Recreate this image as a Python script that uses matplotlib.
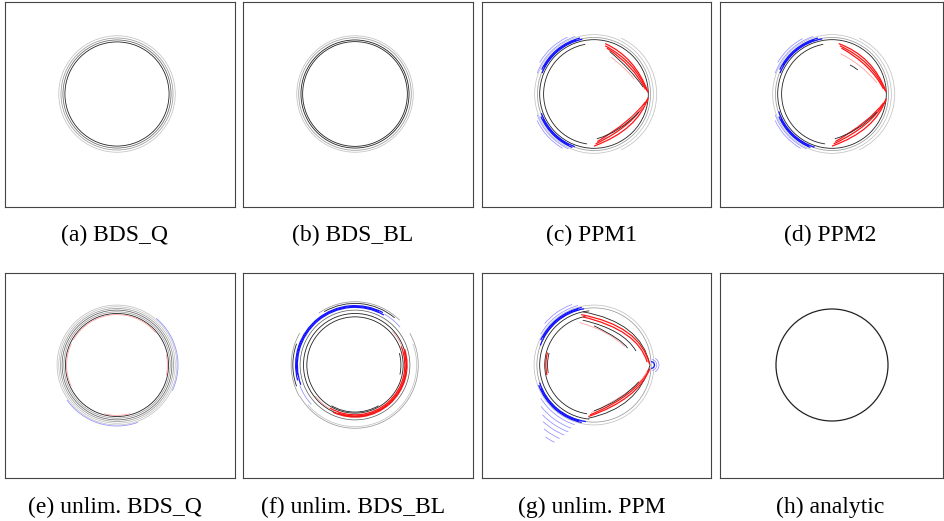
import matplotlib
matplotlib.use('Agg')
import matplotlib.pyplot as plt
from matplotlib.patches import Arc, PathPatch
from matplotlib.path import Path

# contour pieces, in units of the analytic radius, circle centre at (0, 0)
# arcs: (cx, cy, r, theta1, theta2, style); curves: (start, point on curve, end, style)
labels = ['(a) BDS_Q', '(b) BDS_BL', '(c) PPM1', '(d) PPM2',
          '(e) unlim. BDS_Q', '(f) unlim. BDS_BL', '(g) unlim. PPM', '(h) analytic']

arcs_a = [(0, 0, 0.93, 0, 360, 'k'), (0, 0, 0.965, 0, 360, 'dk'),
          (0, 0, 1.0, 0, 360, 'g'), (0, 0, 1.04, 0, 360, 'lg')]
arcs_b = [(0, 0, 0.935, 0, 360, 'k'), (0, 0, 0.965, 0, 360, 'k'),
          (0, 0, 1.005, 0, 360, 'g'), (0, 0, 1.04, 0, 360, 'lg')]
arcs_c = [(0, 0, 1.06, 0, 360, 'lg'), (0, 0, 1.01, 0, 360, 'g'), (0.02, 0, 1.1, -65, 65, 'lg'),
          (0, 0, 0.97, 0, 360, 'k'), (0, 0, 0.9, 100, 262, 'k'),
          (0, 0, 1.0, 102, 158, 'b'), (0, 0, 1.03, 104, 155, 'b'), (0, 0, 1.015, 108, 152, 'b'),
          (0, 0, 1.08, 108, 160, 'lb'), (0, 0, 1.12, 115, 150, 'lb'),
          (0, 0, 1.0, 200, 250, 'b'), (0, 0, 1.03, 203, 248, 'b'), (0, 0, 1.015, 206, 244, 'b'),
          (0, 0, 1.08, 200, 245, 'lb'), (0, 0, 1.12, 205, 240, 'lb')]
curves_c = [((0.2, 0.9), (0.66, 0.56), (0.97, 0.02), 'r'),
            ((0.2, 0.86), (0.65, 0.52), (0.95, 0.05), 'r'),
            ((0.23, 0.82), (0.64, 0.48), (0.92, 0.08), 'r'),
            ((0.3, 0.66), (0.55, 0.45), (0.72, 0.26), 'lr'),
            ((0.28, 0.76), (0.62, 0.44), (0.88, 0.12), 'k'),
            ((0.97, -0.06), (0.63, -0.57), (0.0, -0.93), 'r'),
            ((0.95, -0.1), (0.6, -0.53), (0.03, -0.89), 'r'),
            ((0.92, -0.14), (0.58, -0.49), (0.06, -0.85), 'r'),
            ((0.9, -0.2), (0.7, -0.4), (0.5, -0.58), 'lr'),
            ((0.8, -0.32), (0.45, -0.62), (0.05, -0.8), 'k')]
arcs_d = [(0, 0, 1.06, 0, 360, 'lg'), (0, 0, 1.01, 0, 360, 'g'), (0.02, 0, 1.1, -65, 65, 'lg'),
          (0, 0, 0.97, 0, 360, 'k'), (0, 0, 0.9, 100, 262, 'k'),
          (0, 0, 1.0, 100, 158, 'b'), (0, 0, 1.03, 104, 155, 'b'), (0, 0, 1.015, 108, 150, 'b'),
          (0, 0, 1.08, 108, 160, 'lb'), (0, 0, 1.12, 118, 150, 'lb'),
          (0, 0, 1.0, 198, 252, 'b'), (0, 0, 1.03, 203, 248, 'b'), (0, 0, 1.015, 206, 246, 'b'),
          (0, 0, 1.08, 200, 245, 'lb'), (0, 0, 1.12, 205, 240, 'lb')]
curves_d = [((0.12, 0.9), (0.64, 0.57), (0.97, 0.03), 'r'),
            ((0.14, 0.86), (0.63, 0.53), (0.95, 0.06), 'r'),
            ((0.17, 0.82), (0.62, 0.49), (0.92, 0.09), 'r'),
            ((0.15, 0.72), (0.5, 0.5), (0.8, 0.2), 'lr'),
            ((0.32, 0.52), (0.39, 0.48), (0.46, 0.43), 'k'),
            ((0.97, -0.08), (0.63, -0.58), (0.0, -0.93), 'r'),
            ((0.95, -0.12), (0.6, -0.54), (0.03, -0.89), 'r'),
            ((0.92, -0.16), (0.58, -0.5), (0.06, -0.85), 'r'),
            ((0.8, -0.32), (0.45, -0.62), (0.05, -0.8), 'k')]
arcs_e = [(0, 0, 0.92, 0, 360, 'k'), (0, 0, 0.95, 0, 360, 'g'), (0, 0, 0.98, 0, 360, 'dk'),
          (0, 0, 1.01, 0, 360, 'g'), (0, 0, 1.04, 0, 360, 'lg'), (0, 0, 1.07, 0, 360, 'lg'),
          (0, 0, 0.9, 40, 150, 'lr'), (0, 0, 0.9, 155, 205, 'lr'),
          (0, 0, 0.9, -12, 12, 'lr'), (0, 0, 0.9, 255, 285, 'lr'),
          (0, 0, 1.09, -25, 50, 'lb'), (0, 0, 1.09, 215, 290, 'lb')]
arcs_f = [(0, 0, 0.86, 0, 360, 'k'), (0, 0, 0.92, 0, 360, 'k'), (0, 0, 0.98, 0, 360, 'dk'),
          (0, 0, 0.89, -120, 22, 'r'), (0, 0, 0.93, -115, 18, 'r'), (0, 0, 0.91, -110, 15, 'r'),
          (0, 0, 0.9, 22, 42, 'lr'), (0, 0, 0.9, -142, -120, 'lr'),
          (0, 0, 1.03, 60, 200, 'b'), (0, 0, 1.06, 62, 195, 'b'), (0, 0, 1.045, 66, 190, 'b'),
          (0, 0, 1.05, 40, 60, 'lb'), (0, 0, 1.05, 200, 222, 'lb'),
          (0, 0, 1.13, -150, 30, 'g'), (0, 0, 1.1, -140, 20, 'lg'),
          (0, 0, 1.13, 45, 125, 'g'), (0, 0, 1.1, 50, 120, 'k'),
          (0, 0, 1.14, 150, 210, 'g'), (0, 0, 1.11, 160, 200, 'k'),
          (0, 0, 0.82, -12, 15, 'k'), (0, 0, 0.84, -120, -60, 'k')]
arcs_g = [(0, 0, 1.07, 0, 360, 'lg'), (0, 0, 1.02, 0, 360, 'g'),
          (0, 0, 0.97, 95, 265, 'k'), (0, 0, 0.88, 100, 262, 'k'),
          (0, 0, 1.02, 100, 160, 'b'), (0, 0, 1.05, 102, 155, 'b'), (0, 0, 1.035, 106, 152, 'b'),
          (0, 0, 1.1, 105, 150, 'lb'), (0, 0, 1.15, 110, 140, 'lb'),
          (0, 0, 1.02, 198, 262, 'b'), (0, 0, 1.05, 200, 258, 'b'), (0, 0, 1.035, 204, 255, 'b'),
          (0, 0, 1.12, 212, 252, 'lb'), (0, 0, 1.2, 218, 250, 'lb'),
          (0, 0, 1.28, 224, 249, 'lb'), (0, 0, 1.36, 228, 247, 'lb'),
          (0, 0, 1.45, 232, 245, 'lb'), (0, 0, 1.55, 236, 243, 'lb'),
          (1.02, 0, 0.06, -90, 90, 'b'), (1.02, 0, 0.1, -80, 80, 'lb'),
          (1.02, 0, 0.14, -60, 60, 'lb'),
          (0, 0, 0.86, 165, 192, 'r'), (0, 0, 0.83, 165, 190, 'k')]
curves_g = [((-0.2, 0.95), (0.62, 0.62), (1.0, 0.0), 'k'),
            ((1.0, 0.0), (0.62, -0.62), (-0.1, -0.95), 'k'),
            ((-0.23, 0.9), (0.6, 0.58), (0.99, 0.02), 'r'),
            ((-0.2, 0.86), (0.58, 0.54), (0.95, 0.05), 'r'),
            ((-0.2, 0.8), (0.4, 0.58), (0.75, 0.25), 'k'),
            ((-0.26, 0.76), (0.2, 0.58), (0.55, 0.33), 'lr'),
            ((0.0, 0.7), (0.4, 0.48), (0.6, 0.3), 'k'),
            ((1.0, -0.06), (0.62, -0.55), (-0.1, -0.92), 'r'),
            ((0.97, -0.09), (0.6, -0.52), (-0.07, -0.89), 'r'),
            ((0.95, -0.12), (0.6, -0.48), (-0.05, -0.85), 'lr'),
            ((0.8, -0.3), (0.45, -0.6), (0.0, -0.82), 'k')]
arcs_h = [(0, 0, 1.0, 0, 360, 'kk')]

panel_arcs = [arcs_a, arcs_b, arcs_c, arcs_d, arcs_e, arcs_f, arcs_g, arcs_h]
panel_curves = [[], [], curves_c, curves_d, [], [], curves_g, []]

styles = {'k': ('#222222', 0.6), 'kk': ('#222222', 0.9), 'dk': ('#666666', 0.55),
          'g': ('#9a9a9a', 0.55), 'lg': ('#c2c2c2', 0.55),
          'b': ('#1414ff', 0.9), 'lb': ('#9090ff', 0.55),
          'r': ('#ff1414', 0.9), 'lr': ('#ff9a9a', 0.55)}

W, H = 945, 521
scale = 56.0  # pixels per radius
boxes = [(5, 2, 230), (243, 2, 230), (482, 2, 229), (720, 2, 223),
         (5, 273, 230), (243, 273, 230), (482, 273, 229), (720, 273, 223)]
box_h = 205

fig = plt.figure(figsize=(W / 100, H / 100), dpi=100)

for i, (left, top, bw) in enumerate(boxes):
    ax = fig.add_axes([left / W, 1 - (top + box_h) / H, bw / W, box_h / H])
    ax.set_xlim(-112 / scale, (bw - 112) / scale)
    ax.set_ylim(-(box_h - 92) / scale, 92 / scale)
    ax.set_xticks([])
    ax.set_yticks([])
    for sp in ax.spines.values():
        sp.set_color('#444444')
        sp.set_linewidth(0.8)

    for cx, cy, r, t1, t2, st in panel_arcs[i]:
        col, lw = styles[st]
        ax.add_patch(Arc((cx, cy), 2 * r, 2 * r, theta1=t1, theta2=t2,
                         color=col, lw=lw))
    for p0, pm, p1, st in panel_curves[i]:
        col, lw = styles[st]
        ctrl = (2 * pm[0] - (p0[0] + p1[0]) / 2, 2 * pm[1] - (p0[1] + p1[1]) / 2)
        path = Path([p0, ctrl, p1], [Path.MOVETO, Path.CURVE3, Path.CURVE3])
        ax.add_patch(PathPatch(path, fill=False, edgecolor=col, lw=lw))

    base = 241 if top < 100 else 513
    fig.text((left + 110) / W, 1 - base / H, labels[i], ha='center', va='baseline',
             fontfamily='Liberation Serif', fontsize=17)

fig.savefig('out.png', dpi=100)
